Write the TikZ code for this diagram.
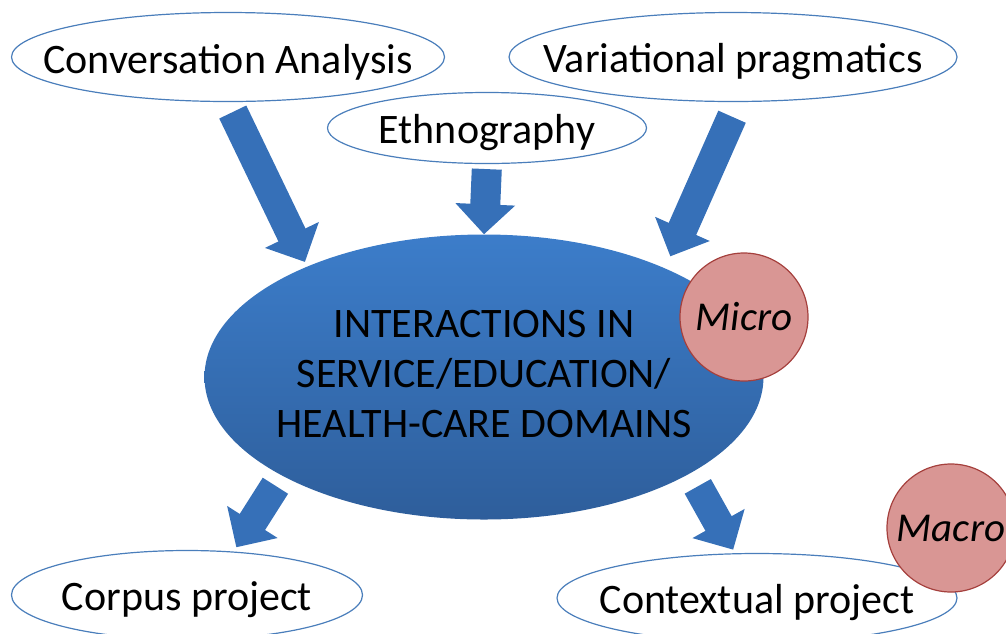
\documentclass[tikz,border=0pt]{standalone}
\usepackage{fontspec}
\setmainfont{Carlito}
\usetikzlibrary{shapes.geometric,arrows.meta}

\definecolor{bubbleline}{HTML}{4A7EBB}
\definecolor{blobtop}{HTML}{3C7DCA}
\definecolor{blobbottom}{HTML}{2E5E9B}
\definecolor{arrowblue}{HTML}{3670B8}
\definecolor{levelfill}{HTML}{D99694}
\definecolor{levelline}{HTML}{A5403D}

\begin{document}
\begin{tikzpicture}[x=1pt,y=1pt,
    every label/.style={font=\fontsize{42}{50}\selectfont},
    tag/.style={anchor=base,yshift=-5pt},
    bubble/.style={ellipse,draw=bubbleline,line width=1.2pt,fill=white,minimum height=89pt,inner sep=0pt,label={[tag]center:#1}},
    blob/.style={ellipse,top color=blobtop,bottom color=blobbottom,minimum width=559pt,minimum height=285pt,inner sep=0pt},
    levelnode/.style={circle,draw=levelline,line width=1.2pt,fill=levelfill,minimum size=128pt,inner sep=0pt,font=\fontsize{41}{50}\selectfont\itshape},
    big arrow/.style={arrowblue,line width=30pt,-{Triangle[length=30pt,width=58pt]}}]
    \useasboundingbox (0,0) rectangle (1006,-633);

    % sources
    \node[bubble=Conversation Analysis, minimum width=433pt] (ca) at (228,-57) {};
    \node[bubble=Variational pragmatics, minimum width=448pt] (vp) at (733,-57) {};
    \node[bubble=Ethnography, minimum width=319pt, minimum height=71pt] (eth) at (487,-128) {};

    % centre
    \node[blob, label={[align=center,yshift=3pt]center:INTERACTIONS IN\\SERVICE/EDUCATION/\\HEALTH-CARE DOMAINS}] (main) at (484,-377) {};

    % projects
    \node[bubble=Corpus project, minimum width=351pt] (corpus) at (187,-595) {};
    \node[bubble=Contextual project, minimum width=400pt] (ctx) at (757,-598) {};

    \path[big arrow]
        (ca.south) edge[shorten <=11pt, shorten >=5pt] (main.148)
        (eth.south) edge[shorten <=5pt] (main.north)
        (vp.-83) edge[shorten <=16pt, shorten >=13pt] (main.31)
        (main.206) edge[shorten <=12pt, shorten >=5pt] (corpus.43)
        (main.-25) edge[shorten <=15pt, shorten >=4pt] (ctx.116.5)
    ;

    \node[levelnode] (micro) at (744,-317) {Micro};
    \node[levelnode] (macro) at (951,-528) {Macro};
\end{tikzpicture}
\end{document}
